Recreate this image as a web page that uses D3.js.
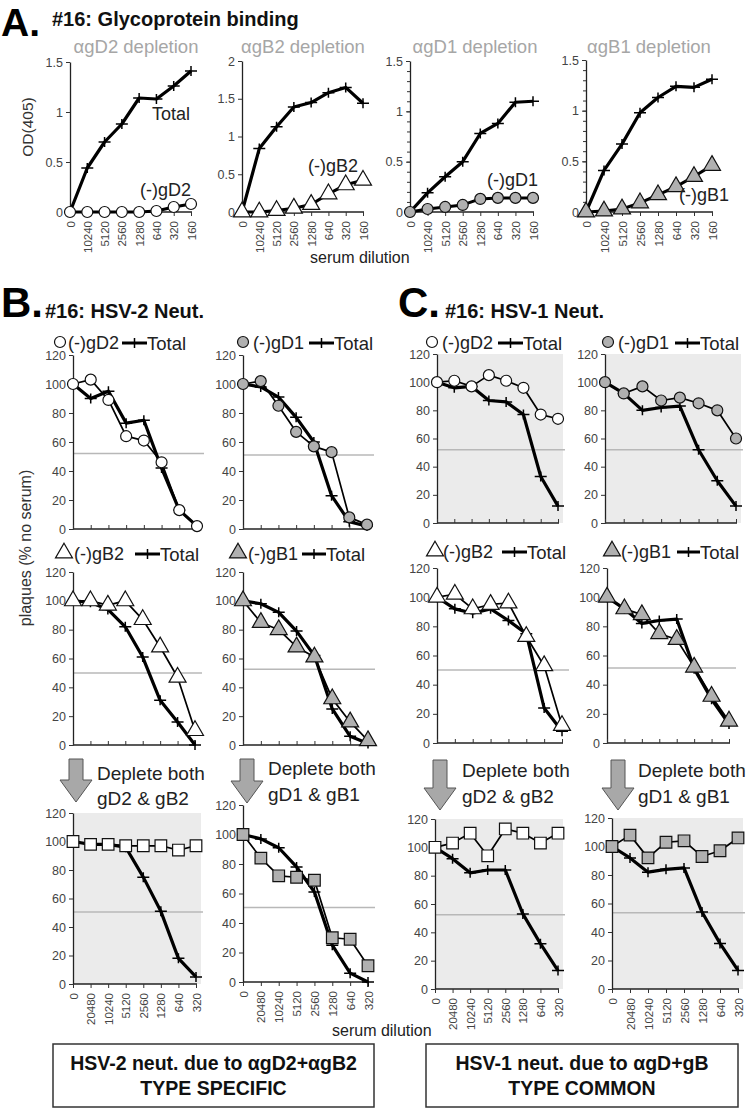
<!DOCTYPE html>
<html>
<head>
<meta charset="utf-8">
<script src="https://cdn.jsdelivr.net/npm/d3@7"></script>
<style>
body { margin: 0; background: #fff; }
svg text { font-family: "Liberation Sans", Arial, sans-serif; }
</style>
</head>
<body>
<svg id="fig" width="750" height="1109"></svg>
<script>
// serum dilutions on the x axis
var dilA = ["0", "10240", "5120", "2560", "1280", "640", "320", "160"];
var dilN = ["0", "20480", "10240", "5120", "2560", "1280", "640", "320"];

// A. glycoprotein binding, OD(405)
var aTotalGD2 = [0, 0.44, 0.70, 0.88, 1.14, 1.13, 1.26, 1.41];
var aMinusGD2 = [0, 0, 0, 0, 0, 0.01, 0.05, 0.08];
var aTotalGB2 = [0, 0.84, 1.13, 1.39, 1.45, 1.58, 1.65, 1.44];
var aMinusGB2 = [0, 0, 0.02, 0.05, 0.10, 0.24, 0.36, 0.42];
var aTotalGD1 = [0, 0.19, 0.35, 0.50, 0.78, 0.88, 1.09, 1.10];
var aMinusGD1 = [0, 0.03, 0.05, 0.07, 0.13, 0.14, 0.14, 0.14];
var aTotalGB1 = [0, 0.41, 0.67, 0.98, 1.13, 1.24, 1.23, 1.31];
var aMinusGB1 = [0, 0.01, 0.03, 0.09, 0.17, 0.25, 0.35, 0.46];

// B. HSV-2 neutralization, plaques (% no serum)
var bTotalGD2 = [100, 90, 95, 73, 75, 42, 13, 2];
var bMinusGD2 = [100, 103, 89, 64, 61, 46, 13, 2];
var bTotalGD1 = [100, 98, 91, 77, 60, 23, 5, 2];
var bMinusGD1 = [100, 102, 85, 67, 57, 53, 8, 3];
var bTotalGB2 = [100, 99, 94, 82, 61, 31, 16, 0];
var bMinusGB2 = [100, 100, 97, 100, 87, 68, 47, 10];
var bTotalGB1 = [100, 98, 92, 79, 62, 25, 6, 1];
var bMinusGB1 = [100, 85, 80, 68, 61, 32, 16, 3];
var bTotalBoth2 = [100, 98, 98, 96, 75, 51, 18, 5];
var bMinusBoth2 = [100, 98, 98, 97, 97, 97, 94, 97];
var bTotalBoth1 = [100, 97, 91, 78, 61, 25, 6, 0];
var bMinusBoth1 = [100, 84, 72, 71, 69, 30, 29, 11];

// C. HSV-1 neutralization, plaques (% no serum)
var cTotalGD2 = [100, 96, 97, 87, 86, 77, 33, 12];
var cMinusGD2 = [100, 101, 97, 105, 101, 96, 77, 74];
var cTotalGD1 = [100, 92, 80, 82, 83, 52, 30, 12];
var cMinusGD1 = [100, 92, 97, 87, 89, 85, 80, 60];
var cTotalGB2 = [100, 92, 89, 92, 84, 75, 24, 8];
var cMinusGB2 = [100, 102, 92, 95, 96, 73, 53, 12];
var cTotalGB1 = [100, 92, 82, 84, 85, 51, 30, 13];
var cMinusGB1 = [100, 92, 88, 75, 71, 52, 32, 15];
var cTotalBoth2 = [100, 92, 82, 84, 84, 53, 32, 13];
var cMinusBoth2 = [100, 103, 110, 94, 113, 110, 103, 110];
var cTotalBoth1 = [100, 92, 82, 84, 85, 54, 32, 13];
var cMinusBoth1 = [100, 108, 92, 103, 104, 93, 97, 106];

var odTicks = [0, 0.5, 1, 1.5];
var odTicks2 = [0, 0.5, 1, 1.5, 2];
var pctTicks = [0, 20, 40, 60, 80, 100, 120];

var GREY = "#b0b0b0";
var svg = d3.select("#fig");

function marker(sel, kind, fill) {
    if (kind === "plus") {
        sel.append("path").attr("d", "M-6,0H6M0,-5V5")
            .attr("stroke", "#000").attr("stroke-width", 1.5).attr("fill", "none");
    } else if (kind === "circle") {
        sel.append("circle").attr("r", 5.5)
            .attr("fill", fill).attr("stroke", "#111").attr("stroke-width", 1.2);
    } else {
        var sym = kind === "tri" ? d3.symbolTriangle : d3.symbolSquare;
        sel.append("path").attr("d", d3.symbol(sym, kind === "tri" ? 125 : 135)())
            .attr("fill", fill).attr("stroke", "#111").attr("stroke-width", 1.2);
    }
}

function drawPlot(p) {
    var g = svg.append("g");
    var labels = p.labels;
    var x = d3.scalePoint().domain(labels).range([p.x0, p.x1]);
    var y = d3.scaleLinear().domain([0, p.max]).range([p.yBot, p.yTop]);

    if (p.bg) {
        g.append("rect").attr("x", p.x0).attr("y", p.yTop)
            .attr("width", p.x1 - p.x0 + 5).attr("height", p.yBot - p.yTop)
            .attr("fill", "#ebebeb");
    }
    if (p.ref != null) {
        g.append("line").attr("x1", p.x0).attr("x2", p.x1 + 7)
            .attr("y1", y(p.ref)).attr("y2", y(p.ref))
            .attr("stroke", "#b8b8b8").attr("stroke-width", 1.5);
    }

    // y axis
    if (p.minor) {
        g.append("g").attr("transform", "translate(" + p.x0 + ",0)")
            .call(d3.axisLeft(y).tickValues(d3.range(0, p.max + 0.01, 0.1)).tickSize(3).tickFormat(""))
            .call(function (a) { a.select(".domain").remove(); a.selectAll("line").attr("stroke", "#333"); });
    }
    var ya = g.append("g").attr("transform", "translate(" + p.x0 + ",0)")
        .call(d3.axisLeft(y).tickValues(p.ticks).tickSize(4).tickSizeOuter(0).tickFormat(String));
    ya.select(".domain").attr("stroke", "#222").attr("stroke-width", 1.3);
    ya.selectAll(".tick line").attr("stroke", "#333");
    ya.selectAll("text").attr("font-size", 12.5).attr("fill", "#444")
        .attr("font-family", "Liberation Sans, Arial, sans-serif");

    // x axis
    var xa = g.append("g").attr("transform", "translate(0," + p.yBot + ")")
        .call(d3.axisBottom(x).tickSize(p.showX ? 4 : -4).tickSizeOuter(0)
            .tickFormat(p.showX ? null : ""));
    xa.select(".domain").attr("stroke", "#222").attr("stroke-width", 1.3)
        .attr("d", "M" + p.x0 + ",0H" + (p.x1 + 1));
    xa.selectAll(".tick line").attr("stroke", "#333");
    if (p.showX) {
        xa.selectAll("text")
            .attr("transform", "rotate(-90)")
            .attr("x", -9).attr("y", 0).attr("dy", "0.35em")
            .attr("text-anchor", "end")
            .attr("font-size", 11.5).attr("fill", "#444")
            .attr("font-family", "Liberation Sans, Arial, sans-serif");
    }

    var line = d3.line()
        .x(function (d, i) { return x(labels[i]); })
        .y(function (d) { return y(d); });

    // total serum: thick line with + marks
    g.append("path").datum(p.total).attr("d", line)
        .attr("fill", "none").attr("stroke", "#000").attr("stroke-width", 3.2)
        .attr("stroke-linejoin", "round");
    g.selectAll(".tot").data(p.total).enter().append("g")
        .attr("transform", function (d, i) { return "translate(" + x(labels[i]) + "," + y(d) + ")"; })
        .each(function () { marker(d3.select(this), "plus"); });

    // depleted serum
    g.append("path").datum(p.minus).attr("d", line)
        .attr("fill", "none").attr("stroke", "#000").attr("stroke-width", p.thin || 1.7)
        .attr("stroke-linejoin", "round");
    g.selectAll(".dep").data(p.minus).enter().append("g")
        .attr("transform", function (d, i) { return "translate(" + x(labels[i]) + "," + y(d) + ")"; })
        .each(function () { marker(d3.select(this), p.kind, p.fill); });

    if (p.legend) {
        var L = p.legend;
        var lg = svg.append("g");
        marker(lg.append("g").attr("transform", "translate(" + L.mx + "," + (L.y - 1) + ")"), p.kind, p.fill);
        lg.append("text").attr("x", L.tx).attr("y", L.y + 6).attr("font-size", 18)
            .attr("fill", "#222").text(L.label);
        lg.append("line").attr("x1", L.l0).attr("x2", L.l1).attr("y1", L.y).attr("y2", L.y)
            .attr("stroke", "#000").attr("stroke-width", 3);
        marker(lg.append("g").attr("transform", "translate(" + ((L.l0 + L.l1) / 2) + "," + L.y + ")"), "plus");
        lg.append("text").attr("x", L.l1).attr("y", L.y + 7).attr("font-size", 18.5)
            .attr("fill", "#222").text("Total");
    }
}

// ---- panel A ----
drawPlot({ x0: 70, x1: 191, yTop: 62, yBot: 212, max: 1.5, ticks: odTicks, labels: dilA, showX: true,
    total: aTotalGD2, minus: aMinusGD2, kind: "circle", fill: "#fff", thin: 3 });
drawPlot({ x0: 242, x1: 363, yTop: 61, yBot: 212, max: 2, ticks: odTicks2, labels: dilA, showX: true,
    total: aTotalGB2, minus: aMinusGB2, kind: "tri", fill: "#fff", thin: 3 });
drawPlot({ x0: 410, x1: 533, yTop: 61, yBot: 212, max: 1.5, ticks: odTicks, labels: dilA, showX: true, minor: true,
    total: aTotalGD1, minus: aMinusGD1, kind: "circle", fill: GREY, thin: 3 });
drawPlot({ x0: 586, x1: 712, yTop: 60, yBot: 212, max: 1.5, ticks: odTicks, labels: dilA, showX: true, minor: true,
    total: aTotalGB1, minus: aMinusGB1, kind: "tri", fill: GREY, thin: 3 });

// ---- panel B, C rows 1 and 2 ----
drawPlot({ x0: 73, x1: 197, yTop: 355, yBot: 529, max: 120, ticks: pctTicks, labels: dilN, ref: 52,
    total: bTotalGD2, minus: bMinusGD2, kind: "circle", fill: "#fff",
    legend: { mx: 60, tx: 68, y: 343, label: "(-)gD2", l0: 122, l1: 147 } });
drawPlot({ x0: 243, x1: 367, yTop: 355, yBot: 529, max: 120, ticks: pctTicks, labels: dilN, ref: 51,
    total: bTotalGD1, minus: bMinusGD1, kind: "circle", fill: GREY,
    legend: { mx: 243, tx: 253, y: 343, label: "(-)gD1", l0: 309, l1: 334 } });
drawPlot({ x0: 437, x1: 558, yTop: 354, yBot: 523, max: 120, ticks: pctTicks, labels: dilN, ref: 52, bg: true,
    total: cTotalGD2, minus: cMinusGD2, kind: "circle", fill: "#fff",
    legend: { mx: 432, tx: 442, y: 343, label: "(-)gD2", l0: 498, l1: 523 } });
drawPlot({ x0: 605, x1: 736, yTop: 354, yBot: 523, max: 120, ticks: pctTicks, labels: dilN, ref: 52, bg: true,
    total: cTotalGD1, minus: cMinusGD1, kind: "circle", fill: GREY,
    legend: { mx: 608, tx: 618, y: 343, label: "(-)gD1", l0: 675, l1: 700 } });

drawPlot({ x0: 73, x1: 195, yTop: 572, yBot: 745, max: 120, ticks: pctTicks, labels: dilN, ref: 50,
    total: bTotalGB2, minus: bMinusGB2, kind: "tri", fill: "#fff",
    legend: { mx: 64, tx: 74, y: 554, label: "(-)gB2", l0: 135, l1: 160 } });
drawPlot({ x0: 243, x1: 368, yTop: 572, yBot: 745, max: 120, ticks: pctTicks, labels: dilN, ref: 52.5,
    total: bTotalGB1, minus: bMinusGB1, kind: "tri", fill: GREY,
    legend: { mx: 238, tx: 248, y: 554, label: "(-)gB1", l0: 302, l1: 326 } });
drawPlot({ x0: 437, x1: 562, yTop: 568, yBot: 743, max: 120, ticks: pctTicks, labels: dilN, ref: 50,
    total: cTotalGB2, minus: cMinusGB2, kind: "tri", fill: "#fff",
    legend: { mx: 435, tx: 443, y: 552, label: "(-)gB2", l0: 502, l1: 527 } });
drawPlot({ x0: 607, x1: 729, yTop: 568, yBot: 743, max: 120, ticks: pctTicks, labels: dilN, ref: 51.5,
    total: cTotalGB1, minus: cMinusGB1, kind: "tri", fill: GREY,
    legend: { mx: 612, tx: 621, y: 552, label: "(-)gB1", l0: 677, l1: 700 } });

// ---- row 3: both depleted ----
drawPlot({ x0: 73, x1: 196, yTop: 813, yBot: 984, max: 120, ticks: pctTicks, labels: dilN, ref: 50.5, bg: true, showX: true,
    total: bTotalBoth2, minus: bMinusBoth2, kind: "sq", fill: "#fff" });
drawPlot({ x0: 243, x1: 368, yTop: 805, yBot: 982, max: 120, ticks: pctTicks, labels: dilN, ref: 50.5, showX: true,
    total: bTotalBoth1, minus: bMinusBoth1, kind: "sq", fill: GREY });
drawPlot({ x0: 435, x1: 558, yTop: 819, yBot: 989, max: 120, ticks: pctTicks, labels: dilN, ref: 52.5, bg: true, showX: true,
    total: cTotalBoth2, minus: cMinusBoth2, kind: "sq", fill: "#fff" });
drawPlot({ x0: 612, x1: 738, yTop: 818, yBot: 989, max: 120, ticks: pctTicks, labels: dilN, ref: 53.5, bg: true, showX: true,
    total: cTotalBoth1, minus: cMinusBoth1, kind: "sq", fill: GREY });

// ---- text ----
function txt(x, y, s, size, opts) {
    opts = opts || {};
    var t = svg.append("text").attr("x", x).attr("y", y).attr("font-size", size)
        .attr("fill", opts.fill || "#111").text(s);
    if (opts.bold) t.attr("font-weight", "bold");
    if (opts.anchor) t.attr("text-anchor", opts.anchor);
    if (opts.rot) t.attr("transform", "rotate(-90," + x + "," + y + ")");
    return t;
}

txt(1, 36, "A.", 39, { bold: true, fill: "#000" });
txt(52, 26, "#16: Glycoprotein binding", 20, { bold: true });
txt(136, 53, "αgD2 depletion", 18.5, { anchor: "middle", fill: "#a6a6a6" });
txt(303, 53, "αgB2 depletion", 18.5, { anchor: "middle", fill: "#a6a6a6" });
txt(475, 53, "αgD1 depletion", 18.5, { anchor: "middle", fill: "#a6a6a6" });
txt(649, 53, "αgB1 depletion", 18.5, { anchor: "middle", fill: "#a6a6a6" });
txt(152, 120, "Total", 18, { fill: "#222" });
txt(140, 196, "(-)gD2", 18, { fill: "#222" });
txt(308, 172, "(-)gB2", 18, { fill: "#222" });
txt(487, 186, "(-)gD1", 18, { fill: "#222" });
txt(679, 201, "(-)gB1", 18, { fill: "#222" });
txt(28, 127, "OD(405)", 15.5, { anchor: "middle", rot: true, fill: "#333" }).attr("dy", "0.35em");
txt(310, 263, "serum dilution", 16, { fill: "#222" });

txt(1, 317, "B.", 42, { bold: true, fill: "#000" });
txt(45, 318, "#16: HSV-2 Neut.", 20, { bold: true });
txt(398, 317, "C.", 42, { bold: true, fill: "#000" });
txt(445, 318, "#16: HSV-1 Neut.", 20, { bold: true });
txt(25, 548, "plaques (% no serum)", 16, { anchor: "middle", rot: true, fill: "#333" }).attr("dy", "0.35em");

// arrows between rows
function arrow(cx, top, tip) {
    var sw = 7, hw = 16, hh = 22;
    svg.append("path")
        .attr("d", "M" + (cx - sw) + "," + top + "H" + (cx + sw) + "V" + (tip - hh) + "H" + (cx + hw) +
            "L" + cx + "," + tip + "L" + (cx - hw) + "," + (tip - hh) + "H" + (cx - sw) + "Z")
        .attr("fill", "#a8a8a8").attr("stroke", "#555").attr("stroke-width", 1);
}
arrow(76, 759, 802);
arrow(247, 759, 803);
arrow(440, 760, 810);
arrow(618, 760, 810);
txt(97, 780, "Deplete both", 19, { fill: "#222" });
txt(97, 805, "gD2 & gB2", 19, { fill: "#222" });
txt(268, 775, "Deplete both", 19, { fill: "#222" });
txt(268, 801, "gD1 & gB1", 19, { fill: "#222" });
txt(462, 777, "Deplete both", 19, { fill: "#222" });
txt(462, 803, "gD2 & gB2", 19, { fill: "#222" });
txt(638, 777, "Deplete both", 19, { fill: "#222" });
txt(638, 803, "gD1 & gB1", 19, { fill: "#222" });

txt(332, 1036, "serum dilution", 16, { fill: "#222" });

// conclusion boxes
svg.append("rect").attr("x", 53).attr("y", 1044).attr("width", 321).attr("height", 63)
    .attr("fill", "none").attr("stroke", "#333").attr("stroke-width", 1.5);
svg.append("rect").attr("x", 426).attr("y", 1044).attr("width", 312).attr("height", 63)
    .attr("fill", "none").attr("stroke", "#333").attr("stroke-width", 1.5);
txt(213.5, 1070, "HSV-2 neut. due to αgD2+αgB2", 19.5, { bold: true, anchor: "middle" });
txt(213.5, 1095, "TYPE SPECIFIC", 19.5, { bold: true, anchor: "middle" });
txt(582, 1070, "HSV-1 neut. due to αgD+gB", 19.5, { bold: true, anchor: "middle" });
txt(582, 1095, "TYPE COMMON", 19.5, { bold: true, anchor: "middle" });
</script>
</body>
</html>
